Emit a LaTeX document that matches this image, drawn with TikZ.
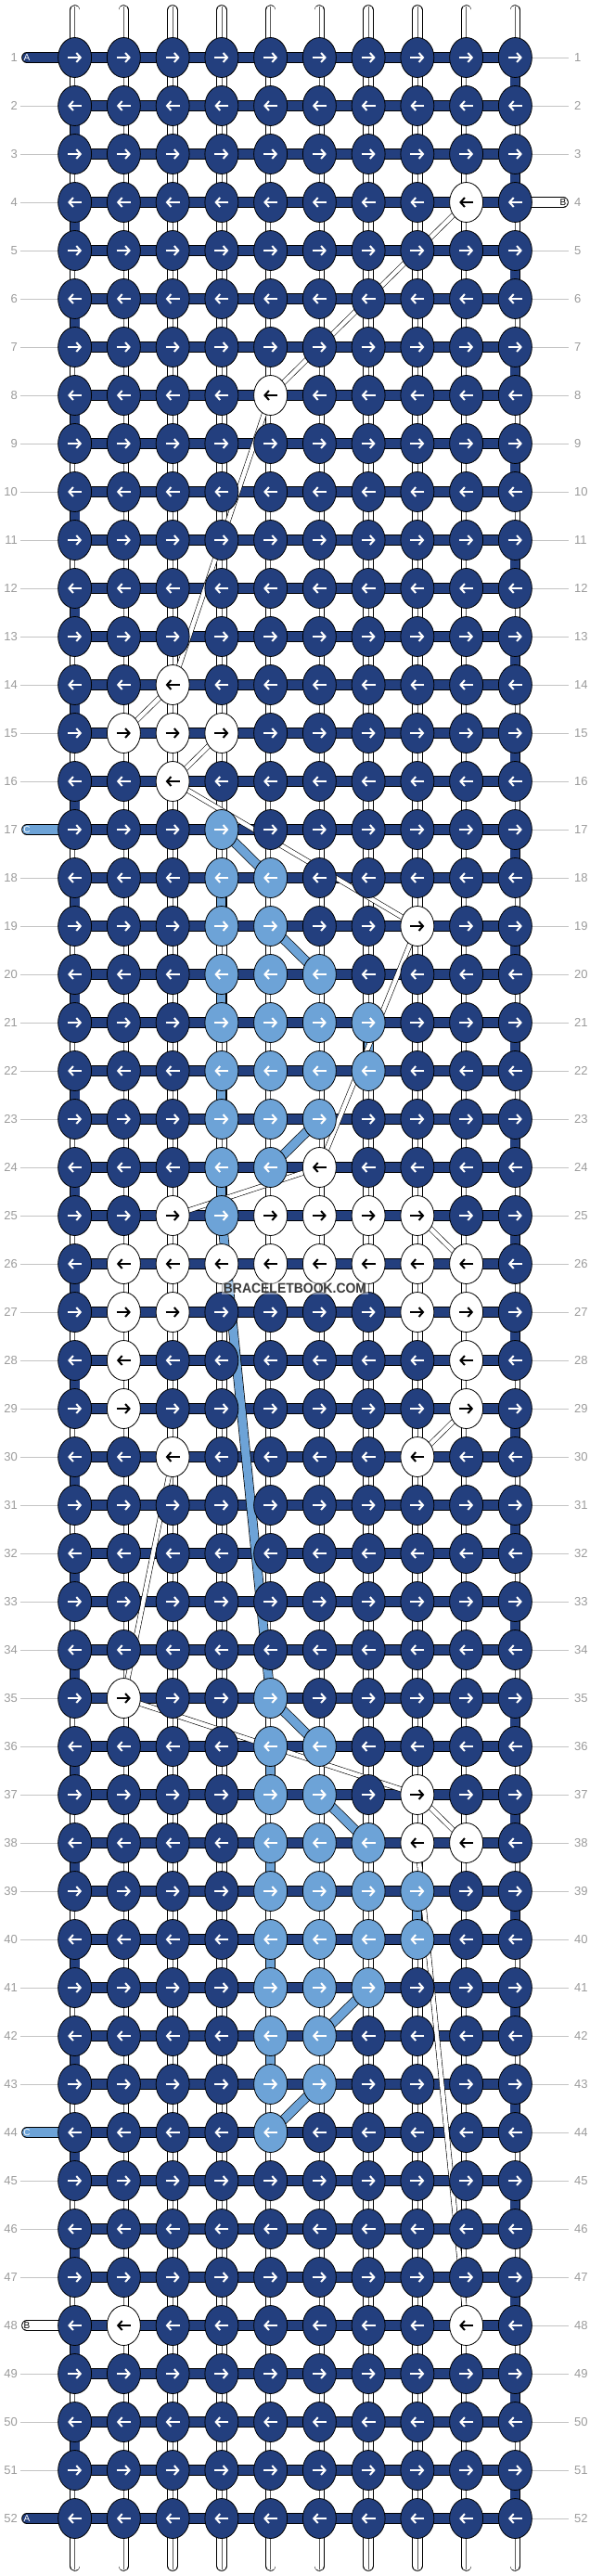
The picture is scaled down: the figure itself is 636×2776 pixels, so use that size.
\documentclass[tikz,border=0pt]{standalone}
\usepackage{fontspec}
\setmainfont{Liberation Sans}
\usetikzlibrary{shapes.geometric,arrows.meta}

\definecolor{navy}{HTML}{233F7E}
\definecolor{sky}{HTML}{6DA3D7}
\definecolor{guidegray}{HTML}{C4C4C4}
\definecolor{numgray}{HTML}{9B9B9B}
\definecolor{wmgray}{HTML}{3A3A3A}

\pgfdeclarelayer{strings}
\pgfdeclarelayer{carry}
\pgfsetlayers{strings,carry,main}

\tikzset{
	arrowcol/.store in=\arrowcol, arrowcol=white,
	arrowdir/.store in=\arrowdir, arrowdir=1,
	knot/.style={ellipse, draw, line width=.8pt, fill=navy, inner sep=0pt,
		minimum width=36pt, minimum height=43pt,
		path picture={\draw[line width=2pt, draw=\arrowcol, -{Straight Barb[length=4.5pt, width=10pt]}]
			([xshift={-7.5pt*(\arrowdir)}]path picture bounding box.center) --
			([xshift={7.5pt*(\arrowdir)}]path picture bounding box.center);}},
	kn/.style={},
	ks/.style={fill=sky},
	kw/.style={fill=white, arrowcol=black},
}

\begin{document}
\begin{tikzpicture}[x=1pt, y=-1pt,
		strand/.style={double=white, double distance=10pt, line width=.8pt},
		core/.style={line width=.5pt, black!65},
		weft/.style={double=navy, double distance=10pt, line width=.8pt},
		skyband/.style={double=sky, double distance=9pt, line width=.7pt},
		carried/.style={double=white, double distance=4.5pt, line width=.6pt},
		guideline/.style={guidegray, line width=.9pt},
		rownum/.style={inner sep=0pt, text=numgray, font=\fontsize{13pt}{13pt}\selectfont},
		tabletter/.style={inner sep=0pt, font=\fontsize{10pt}{10pt}\selectfont},
		watermark/.style={inner sep=1.5pt, fill=white, fill opacity=.45, text opacity=1, text=wmgray,
			font=\bfseries\fontsize{15pt}{15pt}\selectfont}]
	\useasboundingbox (0,0) rectangle (636,2776);

	\foreach \pat [count=\r] in {
		{n,n,n,n,n,n,n,n,n,n}, {n,n,n,n,n,n,n,n,n,n}, {n,n,n,n,n,n,n,n,n,n}, {n,n,n,n,n,n,n,n,w,n},
		{n,n,n,n,n,n,n,n,n,n}, {n,n,n,n,n,n,n,n,n,n}, {n,n,n,n,n,n,n,n,n,n}, {n,n,n,n,w,n,n,n,n,n},
		{n,n,n,n,n,n,n,n,n,n}, {n,n,n,n,n,n,n,n,n,n}, {n,n,n,n,n,n,n,n,n,n}, {n,n,n,n,n,n,n,n,n,n},
		{n,n,n,n,n,n,n,n,n,n}, {n,n,w,n,n,n,n,n,n,n}, {n,w,w,w,n,n,n,n,n,n}, {n,n,w,n,n,n,n,n,n,n},
		{n,n,n,s,n,n,n,n,n,n}, {n,n,n,s,s,n,n,n,n,n}, {n,n,n,s,s,n,n,w,n,n}, {n,n,n,s,s,s,n,n,n,n},
		{n,n,n,s,s,s,s,n,n,n}, {n,n,n,s,s,s,s,n,n,n}, {n,n,n,s,s,s,n,n,n,n}, {n,n,n,s,s,w,n,n,n,n},
		{n,n,w,s,w,w,w,w,n,n}, {n,w,w,w,w,w,w,w,w,n}, {n,w,w,n,n,n,n,w,w,n}, {n,w,n,n,n,n,n,n,w,n},
		{n,w,n,n,n,n,n,n,w,n}, {n,n,w,n,n,n,n,w,n,n}, {n,n,n,n,n,n,n,n,n,n}, {n,n,n,n,n,n,n,n,n,n},
		{n,n,n,n,n,n,n,n,n,n}, {n,n,n,n,n,n,n,n,n,n}, {n,w,n,n,s,n,n,n,n,n}, {n,n,n,n,s,s,n,n,n,n},
		{n,n,n,n,s,s,n,w,n,n}, {n,n,n,n,s,s,s,w,w,n}, {n,n,n,n,s,s,s,s,n,n}, {n,n,n,n,s,s,s,s,n,n},
		{n,n,n,n,s,s,s,n,n,n}, {n,n,n,n,s,s,n,n,n,n}, {n,n,n,n,s,s,n,n,n,n}, {n,n,n,n,s,n,n,n,n,n},
		{n,n,n,n,n,n,n,n,n,n}, {n,n,n,n,n,n,n,n,n,n}, {n,n,n,n,n,n,n,n,n,n}, {n,w,n,n,n,n,n,n,w,n},
		{n,n,n,n,n,n,n,n,n,n}, {n,n,n,n,n,n,n,n,n,n}, {n,n,n,n,n,n,n,n,n,n}, {n,n,n,n,n,n,n,n,n,n}} {
		\pgfmathsetmacro\dir{isodd(\r) ? 1 : -1}
		\foreach \k [count=\c] in \pat
			\node[knot, k\k, arrowdir=\dir] (k-\r-\c) at ({318+(\c-5.5)*52.75}, {62+(\r-1)*52}) {};
		\node[rownum, anchor=east] (nl-\r) at (19, {62+(\r-1)*52}) {\r};
		\node[rownum, anchor=west] (nr-\r) at (619, {62+(\r-1)*52}) {\r};
	}

	\foreach \r/\x/\tc/\ltr in {1/29/white/A, 4/607/black/B, 17/29/white/C, 44/29/white/C, 48/29/black/B, 52/29/white/A}
		\node[tabletter, text=\tc] (tab-\r) at (\x, {62+(\r-1)*52}) {\ltr};

	\node[watermark] (wm) at (318, 1388) {\scalebox{.93}[1]{BRACELETBOOK.COM}};

	\begin{pgfonlayer}{strings}
		\foreach \c in {1,...,10} {
			\coordinate (top-\c) at ({318+(\c-5.5)*52.75}, 11);
			\coordinate (bot-\c) at ({318+(\c-5.5)*52.75}, 2765);
			\draw[strand, line cap=round] (top-\c) -- (k-1-\c.center);
			\draw[strand, line cap=round] (bot-\c) -- (k-52-\c.center);
			\draw[core] ([yshift=4pt]top-\c) -- (k-1-\c.center);
			\draw[core] ([yshift=-4pt]bot-\c) -- (k-52-\c.center);
			\foreach \r [evaluate=\r as \s using int(\r+1)] in {1,...,51} {
				\draw[strand] (k-\r-\c.center) -- (k-\s-\c.center);
				\draw[core] (k-\r-\c.center) -- (k-\s-\c.center);
			}
		}
		\foreach \r [evaluate=\r as \s using int(\r+1)] in {1,3,...,51}
			\draw[weft] (k-\r-10.center) -- (k-\s-10.center);
		\foreach \r [evaluate=\r as \s using int(\r+1)] in {2,4,...,50}
			\draw[weft] (k-\r-1.center) -- (k-\s-1.center);
		\foreach \a/\b in {18-4/19-4, 20-4/21-4, 21-7/22-7, 22-4/23-4, 24-4/25-4,
				36-5/37-5, 38-5/39-5, 39-8/40-8, 40-5/41-5, 42-5/43-5}
			\draw[skyband] (k-\a.center) -- (k-\b.center);
		\foreach \r in {1,...,52} {
			\foreach \c [evaluate=\c as \d using int(\c+1)] in {1,...,9}
				\draw[weft] (k-\r-\c.center) -- (k-\r-\d.center);
			\pgfmathtruncatemacro\lt{(\r==1)||(\r==17)||(\r==44)||(\r==48)||(\r==52)}
			\ifnum\lt=0 \draw[guideline] ([xshift=3pt]nl-\r.east) -- (k-\r-1.west); \fi
			\ifnum\r=4 \else \draw[guideline] (k-\r-10.east) -- ([xshift=-6pt]nr-\r.west); \fi
		}
		\foreach \r/\c/\col in {1/1/navy, 4/10/white, 17/1/sky, 44/1/sky, 48/1/white, 52/1/navy}
			\draw[double=\col, double distance=10pt, line width=.8pt, line cap=round] (tab-\r.center) -- (k-\r-\c.center);
	\end{pgfonlayer}

	\begin{pgfonlayer}{carry}
		\foreach \a/\b in {17-4/18-5, 19-5/20-6, 23-6/24-5, 25-4/35-5, 35-5/36-6, 37-6/38-7, 41-7/42-6, 43-6/44-5}
			\draw[skyband] (k-\a.center) -- (k-\b.center);
		\foreach \a/\b in {4-9/8-5, 8-5/14-3, 14-3/15-2, 15-4/16-3, 16-3/19-8, 19-8/24-6, 24-6/25-3,
				25-8/26-9, 29-9/30-8, 30-3/35-2, 35-2/37-8, 37-8/38-9, 38-8/48-9}
			\draw[carried] (k-\a.center) -- (k-\b.center);
	\end{pgfonlayer}
\end{tikzpicture}
\end{document}
